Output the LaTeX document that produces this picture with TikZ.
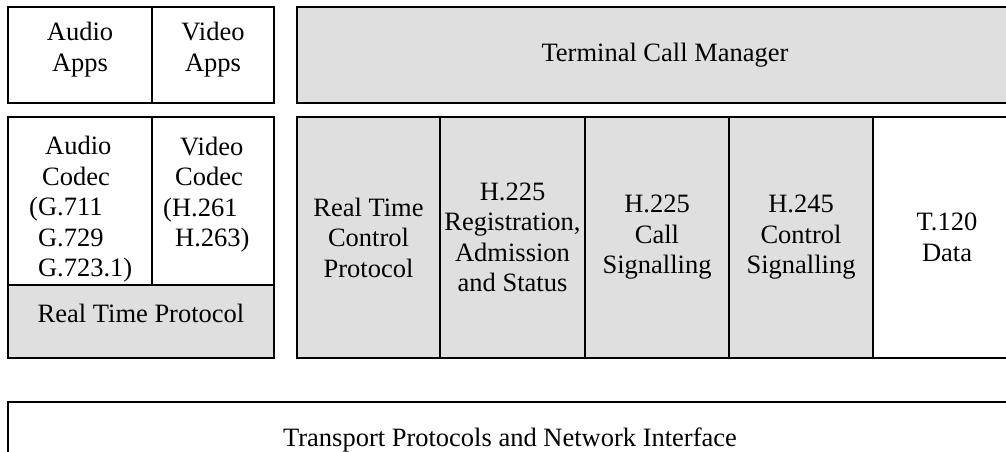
\documentclass[tikz,border=0pt]{standalone}
\usepackage{fontspec}
\setmainfont{Liberation Serif}
\usepackage{tikz}
\usetikzlibrary{positioning}
\definecolor{hgrey}{HTML}{DFDFDF}

\begin{document}
\begin{tikzpicture}[x=1pt,y=-1pt,font=\fontsize{26.5}{30.5}\selectfont,
  layer/.style={draw=black,line width=1.3pt,inner sep=0pt,outer sep=0pt,align=center},
  shaded/.style={layer,fill=hgrey},
  stack/.style={shaded,minimum height=241},
  txt/.style={inner sep=0pt,align=left,anchor=west}]
  \clip (0,0) rectangle (1006,452);
  \node[layer,minimum width=144,minimum height=96,text depth=16pt] (aapps) at (80,55) {Audio\\Apps};
  \node[layer,minimum width=122,minimum height=96,text depth=16pt] (vapps) at (213,55) {Video\\Apps};
  \node[shaded,minimum width=736,minimum height=96] (tcm) at (665,55) {Terminal Call Manager};
  \node[layer,minimum width=144,minimum height=168] (acodec) at (80,201) {};
  \node[layer,minimum width=122,minimum height=168] (vcodec) at (213,201) {};
  \node[txt] (acodectxt) at (29,209.5) {\hspace*{16pt}Audio\\\hspace*{13pt}Codec\\(G.711\\\hphantom{(}G.729\\\hphantom{(}G.723.1)};
  \node[txt] (vcodectxt) at (163,194.5) {\hspace*{17pt}Video\\\hspace*{12pt}Codec\\(H.261\\\hspace*{12pt}H.263)};
  \node[shaded,minimum width=266,minimum height=73] (rtp) at (141,321.5) {};
  \node[inner sep=0pt] (rtptxt) at (141,313) {Real Time Protocol};
  \node[stack,minimum width=143] (rtcp) at (368.5,237.5) {Real Time\\Control\\Protocol};
  \node[stack,minimum width=145,right=0pt of rtcp] (ras) {H.225\\Registration,\\Admission\\and Status};
  \node[stack,minimum width=144,right=0pt of ras] (callsig) {H.225\\Call\\Signalling};
  \node[stack,minimum width=144,right=0pt of callsig] (ctrlsig) {H.245\\Control\\Signalling};
  \node[layer,minimum width=148,minimum height=241,right=0pt of ctrlsig] (data) {T.120\\Data};
  \node[layer,minimum width=1004,minimum height=76] (transport) at (510,440) {Transport Protocols and Network Interface};
\end{tikzpicture}
\end{document}
